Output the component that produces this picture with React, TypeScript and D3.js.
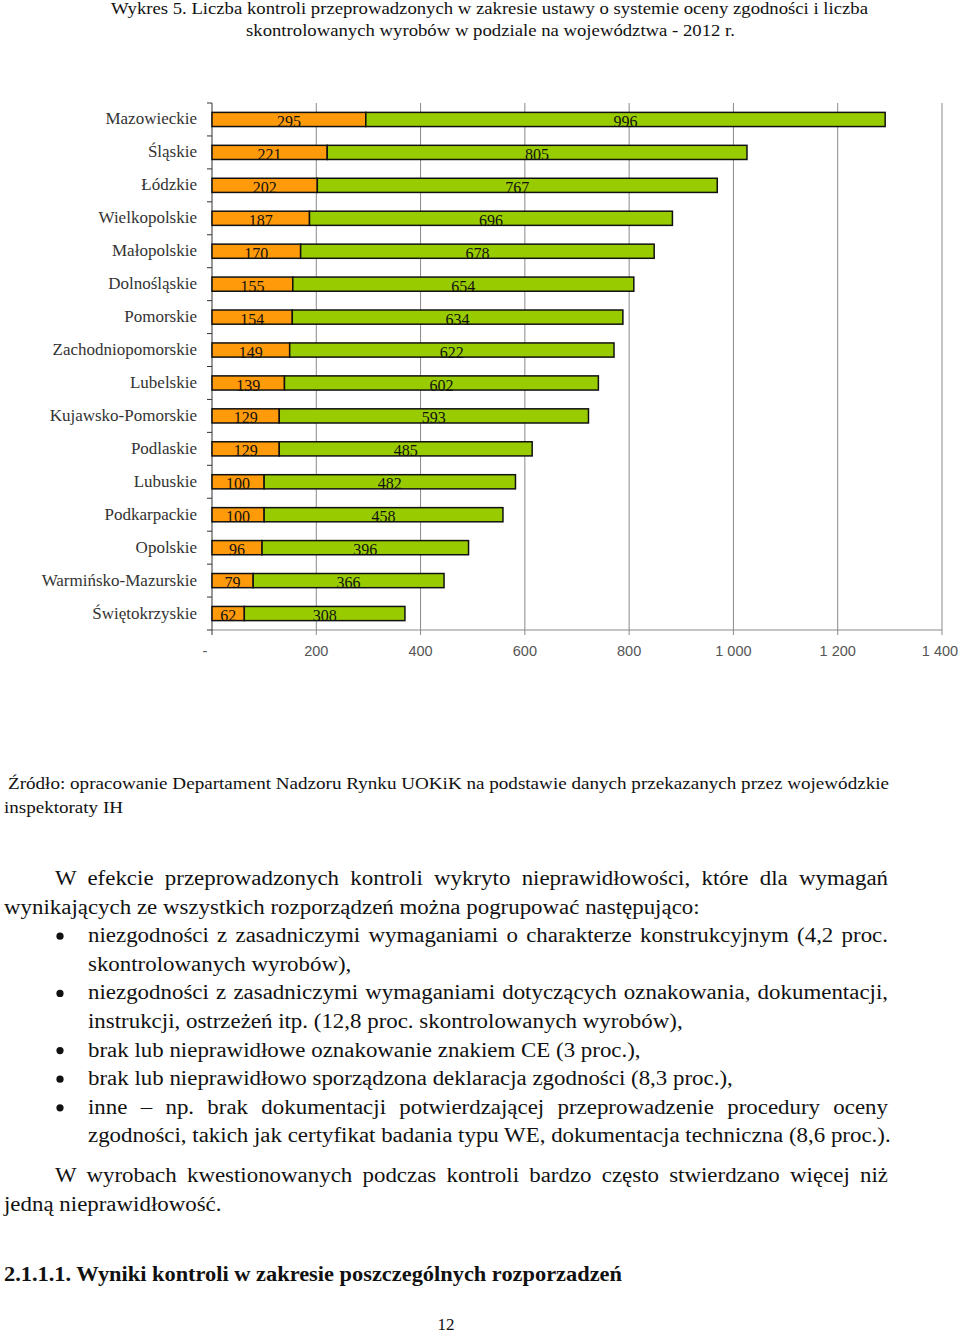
import React, { useEffect, useRef } from "react";
import * as d3 from "d3";

const categories = [
  "Mazowieckie",
  "Śląskie",
  "Łódzkie",
  "Wielkopolskie",
  "Małopolskie",
  "Dolnośląskie",
  "Pomorskie",
  "Zachodniopomorskie",
  "Lubelskie",
  "Kujawsko-Pomorskie",
  "Podlaskie",
  "Lubuskie",
  "Podkarpackie",
  "Opolskie",
  "Warmińsko-Mazurskie",
  "Świętokrzyskie",
];
const kontrole = [295, 221, 202, 187, 170, 155, 154, 149, 139, 129, 129, 100, 100, 96, 79, 62];
const wyroby = [996, 805, 767, 696, 678, 654, 634, 622, 602, 593, 485, 482, 458, 396, 366, 308];
const xTicks = [0, 200, 400, 600, 800, 1000, 1200, 1400];

const titleLines = [
  "Wykres 5.  Liczba kontroli przeprowadzonych w zakresie ustawy o systemie oceny zgodności i liczba",
  "skontrolowanych wyrobów w podziale na województwa - 2012 r.",
];
const sourceLines = [
  "Źródło: opracowanie Departament Nadzoru Rynku UOKiK na podstawie danych przekazanych przez wojewódzkie",
  "inspektoraty IH",
];
const para1 = [
  "W efekcie przeprowadzonych kontroli wykryto nieprawidłowości, które dla wymagań",
  "wynikających ze wszystkich rozporządzeń można pogrupować następująco:",
];
const bullets = [
  ["niezgodności z zasadniczymi wymaganiami o charakterze konstrukcyjnym (4,2 proc.", "skontrolowanych wyrobów),"],
  ["niezgodności z zasadniczymi wymaganiami dotyczących oznakowania, dokumentacji,", "instrukcji, ostrzeżeń itp. (12,8 proc. skontrolowanych wyrobów),"],
  ["brak lub nieprawidłowe oznakowanie znakiem CE (3 proc.),"],
  ["brak lub nieprawidłowo sporządzona deklaracja zgodności (8,3 proc.),"],
  ["inne – np. brak dokumentacji potwierdzającej przeprowadzenie procedury oceny", "zgodności, takich jak certyfikat badania typu WE, dokumentacja techniczna (8,6 proc.)."],
];
const para2 = [
  "W wyrobach kwestionowanych podczas kontroli bardzo często stwierdzano więcej niż",
  "jedną nieprawidłowość.",
];
const heading = "2.1.1.1. Wyniki kontroli w zakresie poszczególnych rozporzadzeń";
const pageNo = "12";

const SERIF = "'Liberation Serif', 'Times New Roman', serif";
const SANS = "'Liberation Sans', Arial, sans-serif";
const ORANGE = "#ff9a0a";
const GREEN = "#99cc00";

const fmt = (v: number) => (v === 0 ? "-" : d3.format(",")(v).replace(/,/g, " "));

export default function App() {
  const svgRef = useRef<SVGSVGElement>(null);

  const x = d3.scaleLinear().domain([0, 1400]).range([212, 942]);
  const y = d3
    .scaleBand<string>()
    .domain(categories)
    .range([103, 630])
    .paddingInner(0.57)
    .paddingOuter(0.285);
  const step = y.step();
  const bw = y.bandwidth();
  const top = 103;
  const bottom = 630;

  // body text layout
  const LH = 28.6;
  const rightEdge = 888;
  type Line = { text: string; x: number; y: number; justify: boolean; bullet?: boolean };
  const lines: Line[] = [];
  let yy = 885;
  para1.forEach((t, i) => {
    lines.push({ text: t, x: i === 0 ? 55 : 4, y: yy, justify: i < para1.length - 1 });
    yy += LH;
  });
  bullets.forEach((b) => {
    b.forEach((t, i) => {
      lines.push({ text: t, x: 88, y: yy, justify: i < b.length - 1, bullet: i === 0 });
      yy += LH;
    });
  });
  yy += 11;
  para2.forEach((t, i) => {
    lines.push({ text: t, x: i === 0 ? 55 : 4, y: yy, justify: i < para2.length - 1 });
    yy += LH;
  });

  // widen glyphs to look like the wider book face, justify with word spacing
  useEffect(() => {
    if (!svgRef.current) return;
    const f = 1.145;
    d3.select(svgRef.current)
      .selectAll<SVGTextElement, unknown>("text.body")
      .each(function () {
        const el = this;
        const w = el.getComputedTextLength();
        const justify = el.getAttribute("data-justify") === "1";
        const x0 = +(el.getAttribute("x") || 0);
        const n = (el.textContent || "").split(" ").length - 1;
        if (justify && n > 0) {
          const target = rightEdge - x0;
          const s = (target / f - w) / n;
          el.setAttribute("word-spacing", String(Math.max(0, s)));
          el.setAttribute("textLength", String(target));
        } else {
          el.setAttribute("textLength", String(w * f));
        }
        el.setAttribute("lengthAdjust", "spacingAndGlyphs");
      });
  }, []);

  return (
    <svg
      ref={svgRef}
      width={960}
      height={1335}
      style={{ position: "absolute", left: 0, top: 0, background: "#fff" }}
    >
      <rect width={960} height={1335} fill="#fff" />
      {/* title */}
      {titleLines.map((t, i) => (
        <text
          key={i}
          x={i === 0 ? 111 : 246}
          y={14 + i * 22}
          fontFamily={SERIF}
          fontSize={16.5}
          fill="#111"
          textLength={i === 0 ? 757 : 489}
          lengthAdjust="spacingAndGlyphs"
        >
          {t}
        </text>
      ))}

      {/* gridlines */}
      {xTicks.slice(1).map((t) => (
        <line key={t} x1={x(t)} x2={x(t)} y1={top} y2={bottom + 5} stroke="#8a8a8a" strokeWidth={1} />
      ))}
      {/* axes */}
      <line x1={x(0)} x2={x(1400)} y1={bottom} y2={bottom} stroke="#8a8a8a" strokeWidth={1} />
      <line x1={x(0)} x2={x(0)} y1={top} y2={bottom + 5} stroke="#333" strokeWidth={1} />
      {d3.range(categories.length + 1).map((i) => (
        <line
          key={i}
          x1={x(0) - 5}
          x2={x(0)}
          y1={top + i * step}
          y2={top + i * step}
          stroke="#333"
          strokeWidth={1}
        />
      ))}
      {xTicks.map((t) => (
        <text
          key={t}
          x={x(t) - (t === 0 ? 7 : t === 1400 ? 2 : 0)}
          y={656}
          textAnchor="middle"
          fontFamily={SANS}
          fontSize={14.5}
          fill="#555"
        >
          {fmt(t)}
        </text>
      ))}

      {/* category labels */}
      {categories.map((c) => (
        <text
          key={c}
          x={197}
          y={(y(c) as number) + bw / 2 + 5}
          textAnchor="end"
          fontFamily={SERIF}
          fontSize={17}
          fill="#333"
        >
          {c}
        </text>
      ))}

      {/* bars */}
      {categories.map((c, i) => {
        const by = y(c) as number;
        const a = kontrole[i];
        const b = wyroby[i];
        return (
          <g key={c}>
            <rect x={x(0)} y={by} width={x(a) - x(0)} height={bw} fill={ORANGE} stroke="#111" strokeWidth={1.5} />
            <rect x={x(a)} y={by} width={x(a + b) - x(a)} height={bw} fill={GREEN} stroke="#111" strokeWidth={1.5} />
            <text
              x={(x(0) + x(a)) / 2}
              y={by + bw + 0.5}
              textAnchor="middle"
              fontFamily={SERIF}
              fontSize={16}
              fill="#111"
            >
              {a}
            </text>
            <text
              x={(x(a) + x(a + b)) / 2}
              y={by + bw + 0.5}
              textAnchor="middle"
              fontFamily={SERIF}
              fontSize={16}
              fill="#111"
            >
              {b}
            </text>
          </g>
        );
      })}

      {/* source */}
      {sourceLines.map((t, i) => (
        <text
          key={i}
          x={i === 0 ? 8 : 4}
          y={789 + i * 24}
          fontFamily={SERIF}
          fontSize={17}
          fill="#111"
          textLength={i === 0 ? 881 : 119}
          lengthAdjust="spacingAndGlyphs"
        >
          {t}
        </text>
      ))}

      {/* body text */}
      {lines.map((l, i) => (
        <g key={i}>
          {l.bullet && <circle cx={60} cy={l.y - 6} r={3.6} fill="#111" />}
          <text
            className="body"
            data-justify={l.justify ? "1" : "0"}
            x={l.x}
            y={l.y}
            fontFamily={SERIF}
            fontSize={20}
            fill="#111"
          >
            {l.text}
          </text>
        </g>
      ))}

      <text x={4} y={1281} fontFamily={SERIF} fontSize={20} fontWeight="bold" fill="#111" textLength={618} lengthAdjust="spacingAndGlyphs">
        {heading}
      </text>
      <text x={446} y={1330} textAnchor="middle" fontFamily={SERIF} fontSize={17} fill="#111">
        {pageNo}
      </text>
    </svg>
  );
}
